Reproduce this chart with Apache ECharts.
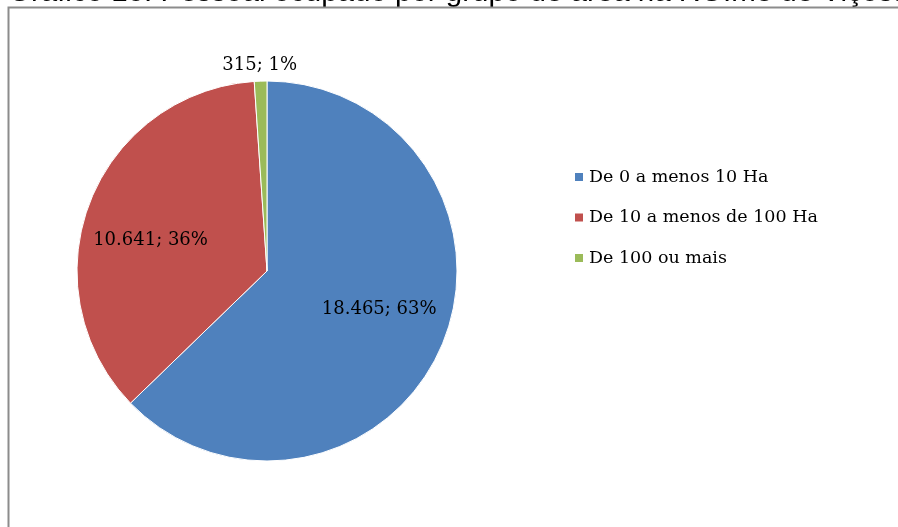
<!DOCTYPE html>
<html>
<head>
<meta charset="utf-8">
<script src="https://cdn.jsdelivr.net/npm/echarts@6/dist/echarts.min.js"></script>
<style>
  html, body { margin: 0; padding: 0; background: #fff; }
  #chart { width: 898px; height: 527px; }
</style>
</head>
<body>
<div id="chart"></div>
<script>
  const categories = ['De 0 a menos 10 Ha', 'De 10 a menos de 100 Ha', 'De 100 ou mais'];
  const values = [18465, 10641, 315];
  const colors = ['#4F81BD', '#C0504D', '#9BBB59'];
  const labelOffsets = [[22, 0], [-25, 5], [-4, -108]];
  const titleText = 'Gráfico 10: Pessoal ocupado por grupo de área na RGIme de Viçosa';

  const formatThousands = function (n) {
    return String(n).replace(/\B(?=(\d{3})+(?!\d))/g, '.');
  };

  const serif = '"DejaVu Serif", "Liberation Serif", serif';

  const chart = echarts.init(document.getElementById('chart'), null, { renderer: 'canvas' });

  chart.setOption({
    animation: false,
    color: colors,
    graphic: [
      {
        type: 'text',
        left: 8,
        top: -22,
        style: {
          text: titleText,
          font: '29.5px "Liberation Sans", Arial, sans-serif',
          fill: '#000'
        }
      },
      {
        type: 'rect',
        shape: { x: 8.5, y: 7.5, width: 1200, height: 1200 },
        style: { fill: 'none', stroke: '#8c8c8c', lineWidth: 2 }
      }
    ],
    legend: {
      orient: 'vertical',
      left: 568,
      top: 163,
      padding: 5,
      itemWidth: 10,
      itemHeight: 10,
      itemGap: 22.5,
      icon: 'rect',
      textStyle: {
        fontFamily: serif,
        fontSize: 17.5,
        lineHeight: 18,
        color: '#000'
      },
      data: categories
    },
    series: [
      {
        type: 'pie',
        center: [267, 271],
        radius: 190,
        startAngle: 90,
        clockwise: true,
        avoidLabelOverlap: false,
        itemStyle: { borderColor: '#fff', borderWidth: 1 },
        label: {
          position: 'inside',
          color: '#000',
          fontFamily: serif,
          fontSize: 18,
          formatter: function (p) {
            return formatThousands(p.value) + '; ' + Math.round(p.percent) + '%';
          }
        },
        labelLine: { show: false },
        emphasis: { disabled: true },
        data: categories.map(function (name, i) {
          return {
            name: name,
            value: values[i],
            label: { offset: labelOffsets[i] }
          };
        })
      }
    ]
  });
</script>
</body>
</html>
